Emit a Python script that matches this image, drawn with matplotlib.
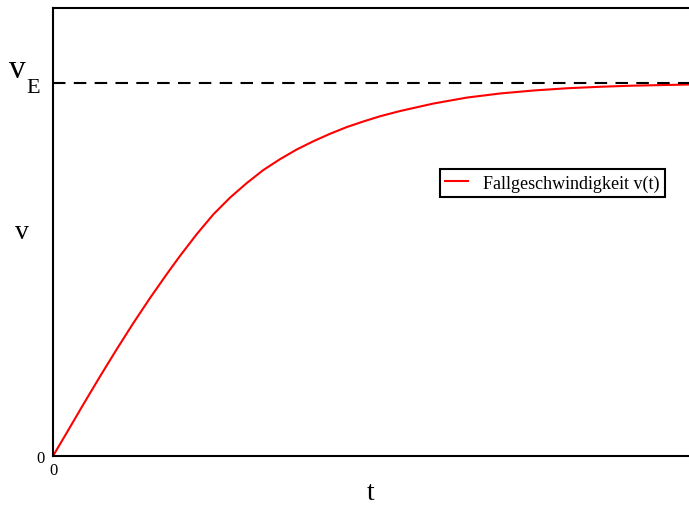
import matplotlib.pyplot as plt

plt.rcParams["font.family"] = ["Liberation Serif", "DejaVu Serif"]

# values (t in arbitrary units, v relative to v_E)
t = [0.0, 0.215, 0.476, 0.739, 1.002, 1.263, 1.525, 1.788, 1.997, 2.259,
     2.520, 2.783, 3.046, 3.307, 3.569, 3.832, 4.093, 4.355, 4.618, 4.879,
     5.142, 5.456, 5.979, 6.505, 7.028, 7.552, 8.077, 8.601, 9.124, 10.0]
v = [0.0, 0.062, 0.138, 0.213, 0.286, 0.356, 0.423, 0.487, 0.536, 0.594,
     0.647, 0.692, 0.731, 0.766, 0.795, 0.821, 0.843, 0.863, 0.881, 0.896,
     0.910, 0.924, 0.944, 0.960, 0.971, 0.979, 0.985, 0.989, 0.992, 0.995]
v_end = 1.0

fig = plt.figure(figsize=(6.89, 5.06), dpi=100)
ax = fig.add_axes([53 / 689, 49 / 506, 636 / 689, 448 / 506])

ax.plot(t, v, color="red", lw=1.5, label="Fallgeschwindigkeit v(t)")
ax.axhline(v_end, color="black", lw=1.5, ls=(0, (6, 4)))

ax.set_xlim(0, 10)
ax.set_ylim(0, 1.2)
ax.set_xticks([0])
ax.set_xticklabels(["0"], fontsize=12)
ax.set_yticks([0])
ax.set_yticklabels(["0"], fontsize=12)
ax.tick_params(length=0, pad=4)
ax.tick_params(axis="y", pad=6)

# v_E label next to the dashed line: big "v" with a deep-set "E"
ytrans = ax.get_yaxis_transform()
ax.annotate("v", xy=(0, v_end), xycoords=ytrans, xytext=(-19.6, 4.3),
            textcoords="offset points", ha="right", va="baseline",
            fontsize=24, annotation_clip=False)
ax.annotate("E", xy=(0, v_end), xycoords=ytrans, xytext=(-9.4, -6.5),
            textcoords="offset points", ha="right", va="baseline",
            fontsize=16, annotation_clip=False)

ax.set_xlabel("t", fontsize=20, labelpad=2)
ax.set_ylabel("v", fontsize=20, rotation=0, ha="center", va="center")
ax.yaxis.set_label_coords(-0.049, 0.502)

for s in ["left", "bottom", "top"]:
    ax.spines[s].set_linewidth(1.5)
ax.spines["right"].set_visible(False)

leg = ax.legend(loc="upper right", bbox_to_anchor=(0.962, 0.641), borderaxespad=0,
                fontsize=13, fancybox=False, framealpha=1, edgecolor="black",
                handlelength=1.3, borderpad=0.3)
leg.get_frame().set_linewidth(1.5)

fig.savefig("out.png", dpi=100)
